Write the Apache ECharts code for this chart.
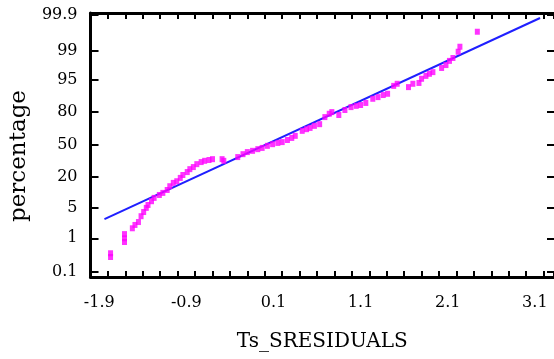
<!DOCTYPE html>
<html>
<head>
<meta charset="utf-8">
<script src="https://cdn.jsdelivr.net/npm/echarts@6/dist/echarts.min.js"></script>
<style>
  html, body { margin: 0; padding: 0; background: #fff; }
  #chart { width: 554px; height: 359px; }
</style>
</head>
<body>
<div id="chart"></div>
<script>
// residuals (x) and normal scores (y, in z units)
const residuals = [
  -1.77, -1.77, -1.61, -1.61, -1.61, -1.52, -1.49, -1.45, -1.42, -1.39,
  -1.36, -1.34, -1.30, -1.27, -1.21, -1.17, -1.12, -1.09, -1.05, -1.01,
  -0.97, -0.94, -0.89, -0.86, -0.82, -0.78, -0.73, -0.69, -0.64, -0.60,
  -0.49, -0.47, -0.31, -0.25, -0.20, -0.14, -0.08, -0.03, 0.03, 0.09,
  0.15, 0.20, 0.26, 0.31, 0.35, 0.43, 0.48, 0.52, 0.57, 0.63,
  0.69, 0.74, 0.77, 0.85, 0.92, 0.99, 1.05, 1.10, 1.16, 1.24,
  1.30, 1.36, 1.41, 1.48, 1.52, 1.65, 1.70, 1.77, 1.80, 1.85,
  1.89, 1.93, 2.03, 2.08, 2.12, 2.16, 2.22, 2.24, 2.44
];
const normalScores = [
  -2.69, -2.60, -2.33, -2.24, -2.14, -2.00, -1.92, -1.85, -1.71, -1.61,
  -1.51, -1.44, -1.35, -1.27, -1.20, -1.15, -1.08, -0.99, -0.91, -0.87,
  -0.79, -0.72, -0.65, -0.58, -0.53, -0.46, -0.41, -0.38, -0.36, -0.34,
  -0.34, -0.38, -0.29, -0.22, -0.17, -0.14, -0.10, -0.07, -0.02, 0.02,
  0.05, 0.07, 0.12, 0.17, 0.22, 0.34, 0.38, 0.41, 0.46, 0.50,
  0.67, 0.75, 0.79, 0.72, 0.84, 0.91, 0.94, 0.96, 1.01, 1.11,
  1.15, 1.20, 1.23, 1.42, 1.47, 1.39, 1.47, 1.49, 1.59, 1.66,
  1.71, 1.75, 1.85, 1.92, 2.02, 2.09, 2.24, 2.36, 2.72
];

// fitted reference line end points
const fitX = [-1.84, 3.16];
const fitY = [-1.78, 3.05];

// axis ticks
const xLabelValues = [-1.9, -0.9, 0.1, 1.1, 2.1, 3.1];
const yTickLabels = ['0.1', '1', '5', '20', '50', '80', '95', '99', '99.9'];
const yTickZ = [-3.05, -2.24, -1.51, -0.76, 0, 0.80, 1.56, 2.27, 3.13];

const font = 'DejaVu Serif';
const X_MIN = -2.0, X_MAX = 3.32, Y_MIN = -3.17, Y_MAX = 3.17;

function yLabel(v) {
  let best = 0;
  for (let i = 1; i < yTickZ.length; i++) {
    if (Math.abs(yTickZ[i] - v) < Math.abs(yTickZ[best] - v)) best = i;
  }
  return yTickLabels[best];
}

const chart = echarts.init(document.getElementById('chart'));

const option = {
  backgroundColor: '#ffffff',
  animation: false,
  grid: { left: 88, right: 0, top: 13, bottom: 82 },
  xAxis: [
    {
      type: 'value',
      min: X_MIN,
      max: X_MAX,
      interval: 0.2,
      name: 'Ts_SRESIDUALS',
      nameLocation: 'middle',
      nameGap: 55,
      nameTextStyle: { fontFamily: font, fontSize: 20, color: '#000' },
      axisLine: { show: true, onZero: false, lineStyle: { color: '#000', width: 3 } },
      axisTick: { show: true, inside: true, length: 6, lineStyle: { color: '#000', width: 2 } },
      axisLabel: {
        show: true, customValues: xLabelValues, margin: 18,
        fontFamily: font, fontSize: 16, color: '#000',
        formatter: v => v.toFixed(1)
      },
      splitLine: { show: false }
    },
    {
      type: 'value',
      position: 'top',
      min: X_MIN,
      max: X_MAX,
      interval: 0.2,
      axisLine: { show: true, onZero: false, lineStyle: { color: '#000', width: 3 } },
      axisTick: { show: true, inside: true, length: 6, lineStyle: { color: '#000', width: 2 } },
      axisLabel: { show: false },
      splitLine: { show: false }
    }
  ],
  yAxis: [
    {
      type: 'value',
      min: Y_MIN,
      max: Y_MAX,
      name: 'percentage',
      nameLocation: 'middle',
      nameGap: 55,
      nameTextStyle: { fontFamily: font, fontSize: 23, color: '#000', padding: [0, 22, 0, 0] },
      axisLine: { show: true, onZero: false, lineStyle: { color: '#000', width: 3 } },
      axisTick: { show: true, inside: true, length: 8, customValues: yTickZ, lineStyle: { color: '#000', width: 2 } },
      axisLabel: {
        show: true, customValues: yTickZ, margin: 13,
        fontFamily: font, fontSize: 16, color: '#000',
        formatter: yLabel
      },
      splitLine: { show: false }
    },
    {
      type: 'value',
      position: 'right',
      min: Y_MIN,
      max: Y_MAX,
      axisLine: { show: false, onZero: false },
      axisTick: { show: true, inside: true, length: 7, customValues: yTickZ, lineStyle: { color: '#000', width: 2 } },
      axisLabel: { show: false },
      splitLine: { show: false }
    }
  ],
  series: [
    {
      type: 'line',
      data: fitX.map((x, i) => [x, fitY[i]]),
      symbol: 'none',
      lineStyle: { color: '#1f1fff', width: 2 },
      z: 2
    },
    {
      type: 'scatter',
      data: residuals.map((x, i) => [x, normalScores[i]]),
      symbol: 'rect',
      symbolSize: [5, 6],
      itemStyle: { color: '#ff00ff' },
      z: 3
    }
  ]
};

chart.setOption(option);
</script>
</body>
</html>
